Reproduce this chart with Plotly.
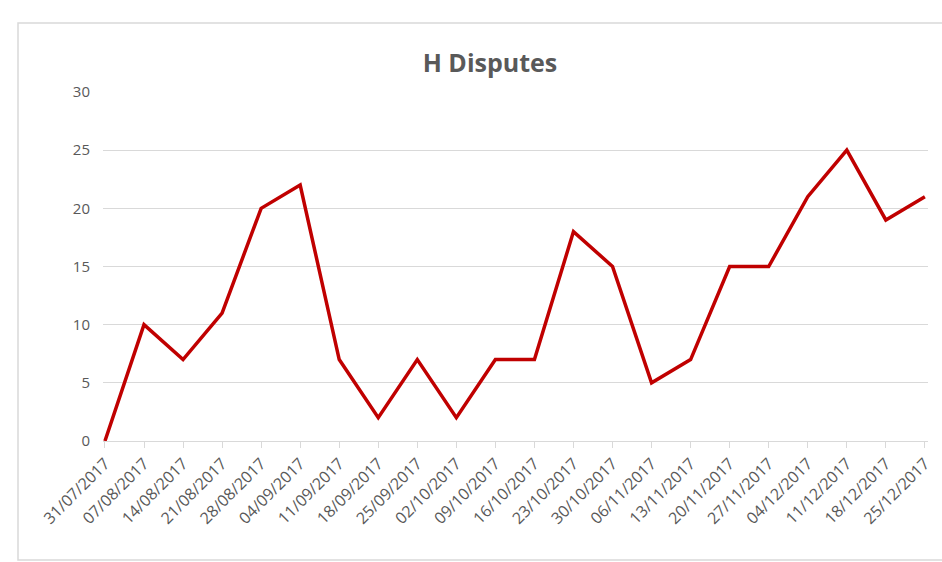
import plotly.graph_objects as go

dates = ["31/07/2017", "07/08/2017", "14/08/2017", "21/08/2017", "28/08/2017", "04/09/2017",
         "11/09/2017", "18/09/2017", "25/09/2017", "02/10/2017", "09/10/2017", "16/10/2017",
         "23/10/2017", "30/10/2017", "06/11/2017", "13/11/2017", "20/11/2017", "27/11/2017",
         "04/12/2017", "11/12/2017", "18/12/2017", "25/12/2017"]
disputes = [0, 10, 7, 11, 20, 22, 7, 2, 7, 2, 7, 7, 18, 15, 5, 7, 15, 15, 21, 25, 19, 21]
y_ticks = [0, 5, 10, 15, 20, 25, 30]

fig = go.Figure()
fig.add_trace(go.Scatter(
    x=dates, y=disputes, mode="lines",
    line=dict(color="#C00000", width=3.5),
    showlegend=False, hoverinfo="skip",
))

font_fam = "Open Sans, Liberation Sans, sans-serif"
fig.update_layout(
    width=942, height=562,
    margin=dict(l=103, r=14, t=92, b=121, autoexpand=False),
    paper_bgcolor="white", plot_bgcolor="white",
    title=dict(text="<b>H Disputes</b>", x=490 / 942, xref="container", xanchor="center",
               y=(562 - 63) / 562, yref="container", yanchor="middle",
               font=dict(family=font_fam, size=25, color="#595959")),
    xaxis=dict(
        type="category", range=[-0.05, 21.08], automargin=False,
        showgrid=False, showline=True, linecolor="#D9D9D9", linewidth=1,
        ticks="outside", ticklen=6, tickcolor="#D9D9D9", tickangle=-45,
        tickfont=dict(family=font_fam, size=16, color="#595959"),
    ),
    yaxis=dict(
        range=[0, 30], tickvals=y_ticks, showgrid=True, gridcolor="#D9D9D9", gridwidth=1,
        zeroline=False, showline=False, ticks="", ticklabelstandoff=12, automargin=False,
        tickfont=dict(family=font_fam, size=15, color="#595959"),
    ),
    shapes=[dict(type="rect", xref="paper", yref="paper",
                 x0=(18 - 103) / 825, x1=(960 - 103) / 825,
                 y0=(441 - 560) / 349, y1=(441 - 23) / 349,
                 line=dict(color="#D9D9D9", width=1.5), fillcolor="rgba(0,0,0,0)", layer="below")],
)

fig.write_html("out.html", config={"displayModeBar": False},
               post_script="document.body.style.margin='0';document.body.style.overflow='hidden';")
